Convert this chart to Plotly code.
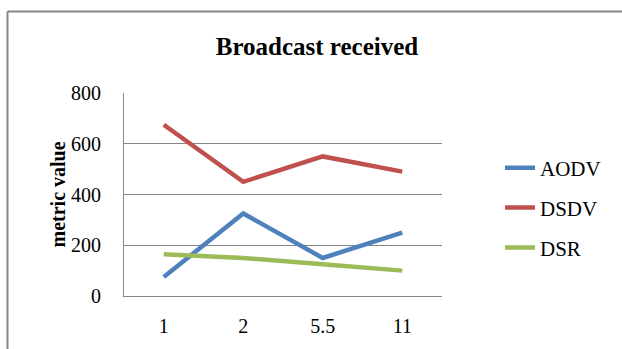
import plotly.graph_objects as go

categories = ["1", "2", "5.5", "11"]
aodv = [75, 325, 150, 250]
dsdv = [675, 450, 550, 490]
dsr = [165, 150, 125, 100]
series_names = ["AODV", "DSDV", "DSR"]
colors = ["#4F81BD", "#C0504D", "#9BBB59"]
yticks = [0, 200, 400, 600, 800]

W, H = 622, 349
L, R, T, B = 124, 442, 93, 301

fig = go.Figure()
for i, (name, vals) in enumerate(zip(series_names, [aodv, dsdv, dsr])):
    fig.add_trace(go.Scatter(x=categories, y=vals, mode="lines", name=name,
                             legendgroup=name,
                             line=dict(color=colors[i], width=4.5)))

def px2x(px):
    return (px - L) / (R - L)

def py2y(py):
    return (B - py) / (B - T)

font = "Liberation Serif"
fig.update_layout(
    width=W, height=H,
    margin=dict(l=L, r=W - R, t=T, b=H - B),
    paper_bgcolor="white", plot_bgcolor="white",
    font=dict(family=font, color="black", size=20),
    title=dict(text="<b>Broadcast received</b>", x=317 / W, xanchor="center",
               y=1 - 46 / H, yanchor="middle", xref="container", yref="container",
               font=dict(size=25, family=font, color="black")),
    showlegend=True,
    legend=dict(x=px2x(500), y=py2y(149), xanchor="left", yanchor="top",
                font=dict(size=21, family=font, color="black"), tracegroupgap=9.5,
                bgcolor="rgba(0,0,0,0)", itemwidth=30),
    xaxis=dict(type="category", range=[-0.5, 3.5], showgrid=False,
               showline=True, linecolor="#868686", linewidth=1,
               ticks="", ticklabelstandoff=12, tickfont=dict(size=20, family=font)),
    yaxis=dict(range=[0, 800], tickvals=yticks, showgrid=True,
               gridcolor="#868686", gridwidth=1, showline=True,
               linecolor="#868686", linewidth=1, ticks="", zeroline=False,
               ticklabelstandoff=18, tickfont=dict(size=20, family=font)),
)

fig.add_annotation(text="<b>metric value</b>", textangle=-90, xref="paper", yref="paper",
                   x=px2x(57), y=0.5, showarrow=False, xanchor="center", yanchor="middle",
                   font=dict(size=20, family=font, color="black"))

# outer chart border (top and left visible)
fig.add_shape(type="line", xref="paper", yref="paper", x0=px2x(7.5), x1=px2x(640),
              y0=py2y(9.5), y1=py2y(9.5), line=dict(color="#868686", width=2))
fig.add_shape(type="line", xref="paper", yref="paper", x0=px2x(7.5), x1=px2x(7.5),
              y0=py2y(9.5), y1=py2y(360), line=dict(color="#868686", width=2))

fig.write_html("out.html")
